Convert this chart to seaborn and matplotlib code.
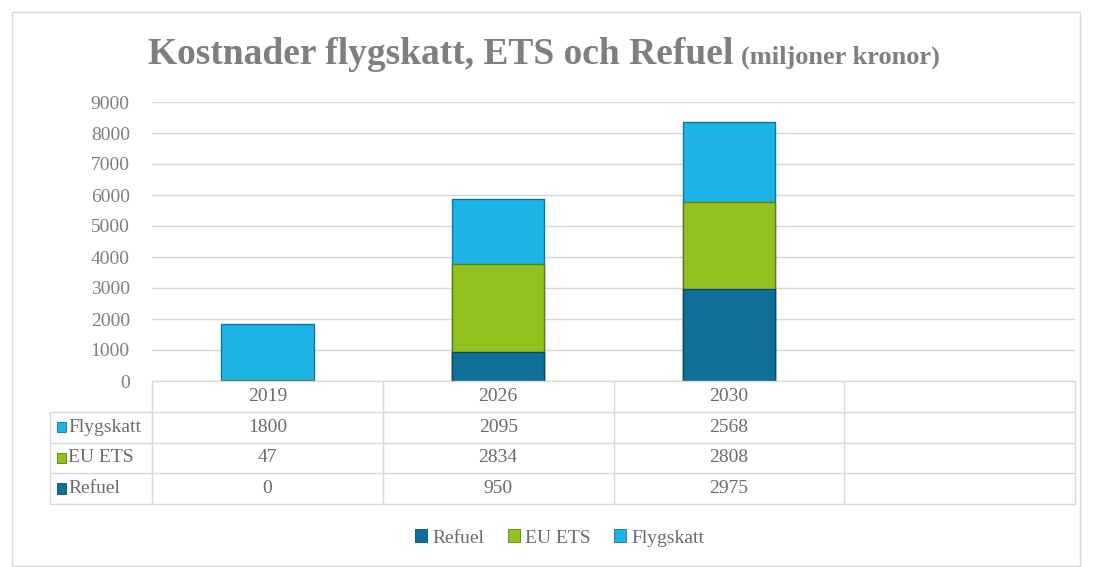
import numpy as np
import pandas as pd
import seaborn as sns
import matplotlib.pyplot as plt
from matplotlib.patches import Rectangle

years = ["2019", "2026", "2030"]
slots = years + [""]
flygskatt = [1800, 2095, 2568]
eu_ets = [47, 2834, 2808]
refuel = [0, 950, 2975]

series = ["Refuel", "EU ETS", "Flygskatt"]
colors = {"Refuel": "#0f6f98", "EU ETS": "#93c11e", "Flygskatt": "#1cb3e6"}
edges = {"Refuel": "#0a4a66", "EU ETS": "#5f7d12", "Flygskatt": "#11779a"}

sns.set_theme(style="white")
plt.rcParams["font.family"] = ["Liberation Serif", "DejaVu Serif"]
grey = "#7f7f7f"
txt = "#6b6b6b"
line = "#d9d9d9"
fs = 14

df = pd.DataFrame({"year": years, "Refuel": refuel, "EU ETS": eu_ets, "Flygskatt": flygskatt})
df["s1"] = df["Refuel"]
df["s2"] = df["s1"] + df["EU ETS"]
df["s3"] = df["s2"] + df["Flygskatt"]

W, H = 1093, 567
fig = plt.figure(figsize=(W / 100, H / 100), dpi=100)
fig.patches.append(Rectangle((12 / W, 1 / H), 1068 / W, 554 / H, transform=fig.transFigure,
                             fill=False, edgecolor="#d9d9d9", linewidth=1))

x0, x1, y0, y9 = 152, 1075, 381, 102
ax = fig.add_axes([x0 / W, 1 - y0 / H, (x1 - x0) / W, (y0 - y9) / H])

# stacked bars: draw cumulative totals, tallest first
for col, name in [("s3", "Flygskatt"), ("s2", "EU ETS"), ("s1", "Refuel")]:
    sns.barplot(data=df, x="year", y=col, order=slots, color=colors[name], width=0.4,
                saturation=1, edgecolor=edges[name], linewidth=1, ax=ax, zorder=3)

ax.set_xlim(-0.5, 3.5)
ax.set_ylim(0, 9000)
ax.set_yticks(np.arange(0, 9001, 1000))
ax.yaxis.grid(True, color=line, linewidth=1, zorder=0)
ax.tick_params(axis="y", colors=grey, labelsize=fs, length=0, pad=16)
ax.set_xticks([])
ax.set_xlabel("")
ax.set_ylabel("")
for s in ax.spines.values():
    s.set_visible(False)
for lbl in ax.get_yticklabels():
    lbl.set_color(grey)

# data table
tx0, ty1 = 50, 504
cat_w = (x1 - x0) / 4
left = -0.5 - (x0 - tx0) / cat_w
tab = fig.add_axes([tx0 / W, 1 - ty1 / H, (x1 - tx0) / W, (ty1 - y0) / H])
tab.set_xlim(left, 3.5)
tab.set_ylim(4, 0)
tab.axis("off")
kw = dict(color=line, linewidth=1, clip_on=False)
tab.plot([-0.5, 3.5], [0, 0], **kw)
for r in range(1, 5):
    tab.plot([left, 3.5], [r, r], **kw)
tab.plot([left, left], [1, 4], **kw)
for c in range(5):
    tab.plot([c - 0.5, c - 0.5], [0, 4], **kw)
for i, y in enumerate(slots):
    tab.text(i, 0.5, y, ha="center", va="center", color=txt, fontsize=fs)
rows = [("Flygskatt", flygskatt), ("EU ETS", eu_ets), ("Refuel", refuel)]
for r, (name, vals) in enumerate(rows, start=1):
    tab.add_patch(Rectangle((left + 0.03, r + 0.33), 0.04, 0.33, facecolor=colors[name],
                            edgecolor=edges[name], linewidth=0.6, clip_on=False))
    tab.text(left + 0.078, r + 0.5, name, ha="left", va="center", color=txt, fontsize=fs)
    for i, v in enumerate(vals):
        tab.text(i, r + 0.5, str(v), ha="center", va="center", color=txt, fontsize=fs)

# legend
handles = [Rectangle((0, 0), 1, 1, facecolor=colors[n], edgecolor=edges[n], linewidth=0.6) for n in series]
fig.legend(handles, series, loc="center", bbox_to_anchor=(560 / W, 1 - 538 / H), ncol=3,
           frameon=False, fontsize=fs, handlelength=0.6, handleheight=0.6,
           handletextpad=0.3, columnspacing=1.2, labelcolor=txt)

# title
t1 = fig.text(148 / W, 1 - 64 / H, "Kostnader flygskatt, ETS och Refuel", fontsize=27,
              fontweight="bold", color=grey, ha="left", va="baseline")
fig.canvas.draw()
ext = t1.get_window_extent()
fig.text((ext.x1 + 8) / W, 1 - 64 / H, "(miljoner kronor)", fontsize=19,
         fontweight="bold", color=grey, ha="left", va="baseline")

fig.savefig("out.png", dpi=100)
